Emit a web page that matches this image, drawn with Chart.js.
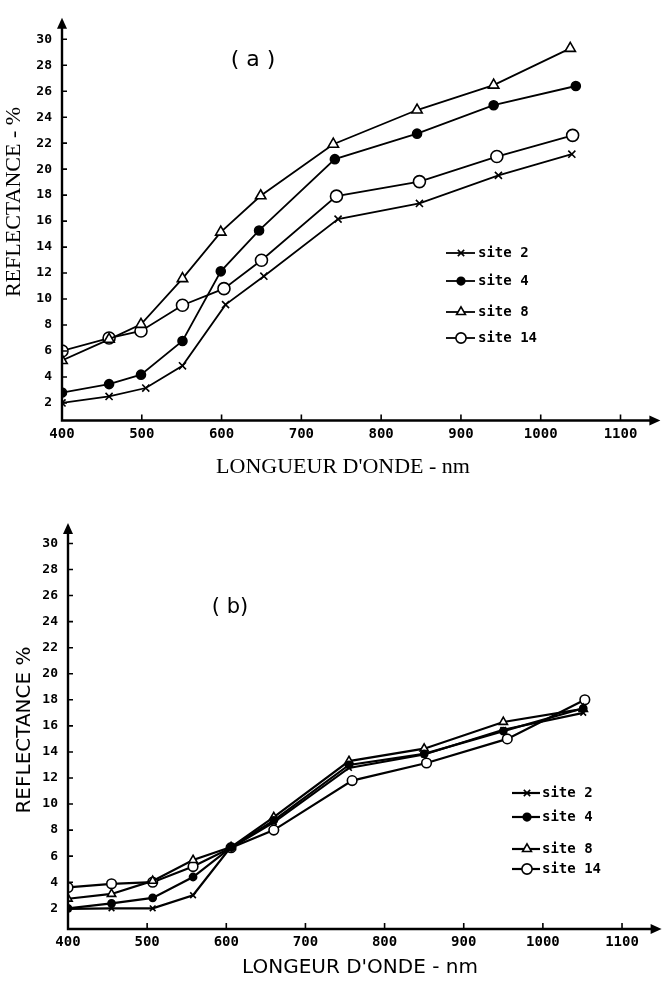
<!DOCTYPE html>
<html>
<head>
<meta charset="utf-8">
<script src="https://cdn.jsdelivr.net/npm/chart.js@4.4.1/dist/chart.umd.min.js"></script>
<style>
    html, body { margin: 0; padding: 0; background: #fff; }
    #wrap { position: relative; width: 668px; height: 981px; }
    canvas { position: absolute; left: 0; }
</style>
</head>
<body>
<div id="wrap">
    <canvas id="chartA" width="668" height="490" style="top:0px"></canvas>
    <canvas id="chartB" width="668" height="491" style="top:490px"></canvas>
</div>
<script>
// tick labels (same on both panels)
const xTicks = [400, 500, 600, 700, 800, 900, 1000, 1100];
const yTicks = [2, 4, 6, 8, 10, 12, 14, 16, 18, 20, 22, 24, 26, 28, 30];
const siteNames = ['site 2', 'site 4', 'site 8', 'site 14'];

// panel (a) - wavelength (nm) and reflectance (%)
const aSite2Wl = [400, 459, 505, 551, 605, 653, 746, 848, 947, 1039];
const aSite2 = [2.0, 2.5, 3.15, 4.86, 9.57, 11.76, 16.15, 17.36, 19.52, 21.15];
const aSite4Wl = [400, 459, 499, 551, 599, 647, 742, 845, 941, 1044];
const aSite4 = [2.8, 3.45, 4.18, 6.77, 12.13, 15.28, 20.77, 22.73, 24.92, 26.4];
const aSite8Wl = [400, 459, 499, 551, 599, 649, 740, 845, 941, 1037];
const aSite8 = [5.27, 6.9, 8.05, 11.57, 15.15, 17.95, 21.92, 24.55, 26.47, 29.3];
const aSite14Wl = [400, 459, 499, 551, 603, 650, 744, 848, 945, 1040];
const aSite14 = [6.0, 7.0, 7.54, 9.52, 10.8, 12.99, 17.92, 19.04, 20.97, 22.6];

// panel (b)
const bSite2Wl = [400, 455, 507, 558, 604, 660, 755, 850, 950, 1051];
const bSite2 = [1.95, 2.0, 2.0, 3.0, 6.56, 8.6, 12.77, 13.8, 15.7, 17.0];
const bSite4Wl = [400, 455, 507, 558, 606, 660, 755, 850, 950, 1051];
const bSite4 = [2.0, 2.37, 2.8, 4.4, 6.67, 8.75, 13.0, 13.85, 15.6, 17.35];
const bSite8Wl = [400, 455, 507, 558, 606, 660, 755, 850, 950, 1051];
const bSite8 = [2.73, 3.1, 4.1, 5.7, 6.7, 9.0, 13.3, 14.25, 16.3, 17.3];
const bSite14Wl = [400, 455, 507, 558, 606, 660, 759, 853, 955, 1053];
const bSite14 = [3.6, 3.88, 4.0, 5.2, 6.65, 8.0, 11.8, 13.15, 15.0, 18.0];

function pts(wl, vals) {
    return wl.map((w, i) => ({ x: w, y: vals[i] }));
}

// marker looks: x, filled dot, open triangle, open circle
const markers = [
    { pointStyle: 'crossRot', radius: 5, fill: '#000' },
    { pointStyle: 'circle', radius: 4.5, fill: '#000' },
    { pointStyle: 'triangle', radius: 6, fill: '#fff' },
    { pointStyle: 'circle', radius: 6, fill: '#fff' }
];

function makeDatasets(series, lineWidth, scaleMarker) {
    return series.map((s, i) => ({
        label: siteNames[i],
        data: s,
        borderColor: '#000',
        borderWidth: lineWidth,
        tension: 0,
        fill: false,
        pointStyle: markers[i].pointStyle,
        pointRadius: markers[i].radius * scaleMarker,
        pointBackgroundColor: markers[i].fill,
        pointBorderColor: '#000',
        pointBorderWidth: 1.6
    }));
}

function drawMarker(ctx, style, r, fill, x, y) {
    ctx.save();
    ctx.strokeStyle = '#000';
    ctx.fillStyle = fill;
    ctx.lineWidth = 1.6;
    ctx.beginPath();
    if (style === 'crossRot') {
        const d = r * 0.75;
        ctx.moveTo(x - d, y - d); ctx.lineTo(x + d, y + d);
        ctx.moveTo(x - d, y + d); ctx.lineTo(x + d, y - d);
        ctx.stroke();
    } else if (style === 'triangle') {
        ctx.moveTo(x, y - r);
        ctx.lineTo(x + r * 0.87, y + r * 0.5);
        ctx.lineTo(x - r * 0.87, y + r * 0.5);
        ctx.closePath();
        ctx.fill(); ctx.stroke();
    } else {
        ctx.arc(x, y, r, 0, Math.PI * 2);
        ctx.fill(); ctx.stroke();
    }
    ctx.restore();
}

// axes with arrows, inner ticks, titles and hand-drawn legend like the paper figure
const paperDecor = {
    id: 'paperDecor',
    afterDraw(chart, args, opts) {
        const ctx = chart.ctx;
        const a = chart.chartArea;
        const xs = chart.scales.x, ys = chart.scales.y;
        ctx.save();
        ctx.strokeStyle = '#000';
        ctx.fillStyle = '#000';
        ctx.lineWidth = 2.4;
        ctx.beginPath();
        ctx.moveTo(a.left, a.top + 4);
        ctx.lineTo(a.left, a.bottom);
        ctx.lineTo(a.right - 4, a.bottom);
        ctx.stroke();
        // arrow heads
        ctx.beginPath();
        ctx.moveTo(a.left, a.top);
        ctx.lineTo(a.left - 5, a.top + 11);
        ctx.lineTo(a.left + 5, a.top + 11);
        ctx.closePath();
        ctx.fill();
        ctx.beginPath();
        ctx.moveTo(a.right, a.bottom);
        ctx.lineTo(a.right - 11, a.bottom - 5);
        ctx.lineTo(a.right - 11, a.bottom + 5);
        ctx.closePath();
        ctx.fill();
        // inner tick marks
        ctx.lineWidth = 1.6;
        ctx.beginPath();
        xTicks.forEach(v => {
            const px = xs.getPixelForValue(v);
            ctx.moveTo(px, a.bottom);
            ctx.lineTo(px, a.bottom - 6);
        });
        yTicks.forEach(v => {
            const py = ys.getPixelForValue(v);
            ctx.moveTo(a.left, py);
            ctx.lineTo(a.left + 5, py);
        });
        ctx.stroke();

        // titles
        ctx.textAlign = 'center';
        ctx.textBaseline = 'middle';
        ctx.font = opts.titleFont;
        ctx.fillText(opts.xTitle, opts.xTitlePos[0], opts.xTitlePos[1]);
        ctx.save();
        ctx.translate(opts.yTitlePos[0], opts.yTitlePos[1]);
        ctx.rotate(-Math.PI / 2);
        ctx.fillText(opts.yTitle, 0, 0);
        ctx.restore();
        ctx.font = opts.panelFont;
        ctx.fillText(opts.panel, opts.panelPos[0], opts.panelPos[1]);

        // legend
        const lg = opts.legend;
        ctx.font = 'bold 14px "DejaVu Sans Mono", monospace';
        ctx.textAlign = 'left';
        chart.data.datasets.forEach((ds, i) => {
            const y = lg.rows[i];
            ctx.lineWidth = ds.borderWidth;
            ctx.beginPath();
            ctx.moveTo(lg.x0, y);
            ctx.lineTo(lg.x1, y);
            ctx.stroke();
            drawMarker(ctx, ds.pointStyle, markers[i].radius * 0.85, ds.pointBackgroundColor, lg.mx, y);
            ctx.fillStyle = '#000';
            ctx.fillText(ds.label, lg.tx, y);
        });
        ctx.restore();
    }
};

function makeScales(o) {
    return {
        x: {
            type: 'linear',
            min: 400,
            max: 1150,
            grid: { display: false, drawTicks: false },
            border: { display: false },
            afterBuildTicks: s => { s.ticks = xTicks.map(v => ({ value: v })); },
            afterFit: s => { s.height = o.xHeight; },
            ticks: {
                color: '#000',
                padding: 5,
                autoSkip: false,
                maxRotation: 0,
                font: { family: '"DejaVu Sans Mono", monospace', size: 14, weight: 'bold' },
                callback: v => String(v)
            }
        },
        y: {
            type: 'linear',
            min: o.yMin,
            max: o.yMax,
            grid: { display: false, drawTicks: false },
            border: { display: false },
            afterBuildTicks: s => { s.ticks = yTicks.map(v => ({ value: v })); },
            afterFit: s => { s.width = o.yWidth; },
            ticks: {
                color: '#000',
                padding: 10,
                autoSkip: false,
                font: { family: '"DejaVu Sans Mono", monospace', size: 13, weight: 'bold' },
                callback: v => String(v)
            }
        }
    };
}

const configA = {
    type: 'line',
    data: {
        datasets: makeDatasets([
            pts(aSite2Wl, aSite2),
            pts(aSite4Wl, aSite4),
            pts(aSite8Wl, aSite8),
            pts(aSite14Wl, aSite14)
        ], 1.8, 1)
    },
    options: {
        responsive: false,
        animation: false,
        devicePixelRatio: 1,
        layout: { padding: { top: 8, right: 3, left: 0, bottom: 0 } },
        scales: makeScales({ yMin: 0.65, yMax: 31.65, xHeight: 69.5, yWidth: 62 }),
        plugins: {
            legend: { display: false },
            tooltip: { enabled: false },
            paperDecor: {
                xTitle: "LONGUEUR D'ONDE - nm",
                yTitle: 'REFLECTANCE - %',
                titleFont: '22px "Liberation Serif", serif',
                xTitlePos: [343, 467],
                yTitlePos: [14, 202],
                panel: '( a )',
                panelFont: '22px "DejaVu Sans", sans-serif',
                panelPos: [253, 60],
                legend: { x0: 446, x1: 475, mx: 461, tx: 478, rows: [253, 281, 312, 338] }
            }
        }
    },
    plugins: [paperDecor]
};

const configB = {
    type: 'line',
    data: {
        datasets: makeDatasets([
            pts(bSite2Wl, bSite2),
            pts(bSite4Wl, bSite4),
            pts(bSite8Wl, bSite8),
            pts(bSite14Wl, bSite14)
        ], 2.2, 0.8)
    },
    options: {
        responsive: false,
        animation: false,
        devicePixelRatio: 1,
        layout: { padding: { top: 33, right: 4, left: 0, bottom: 0 } },
        scales: makeScales({ yMin: 0.41, yMax: 31.57, xHeight: 52, yWidth: 68 }),
        plugins: {
            legend: { display: false },
            tooltip: { enabled: false },
            paperDecor: {
                xTitle: "LONGEUR D'ONDE - nm",
                yTitle: 'REFLECTANCE %',
                titleFont: '20px "DejaVu Sans", sans-serif',
                xTitlePos: [360, 478],
                yTitlePos: [25, 240],
                panel: '( b)',
                panelFont: '21px "DejaVu Sans", sans-serif',
                panelPos: [230, 118],
                legend: { x0: 512, x1: 540, mx: 527, tx: 542, rows: [303, 327, 359, 379] }
            }
        }
    },
    plugins: [paperDecor]
};

new Chart(document.getElementById('chartA'), configA);
new Chart(document.getElementById('chartB'), configB);
</script>
</body>
</html>
